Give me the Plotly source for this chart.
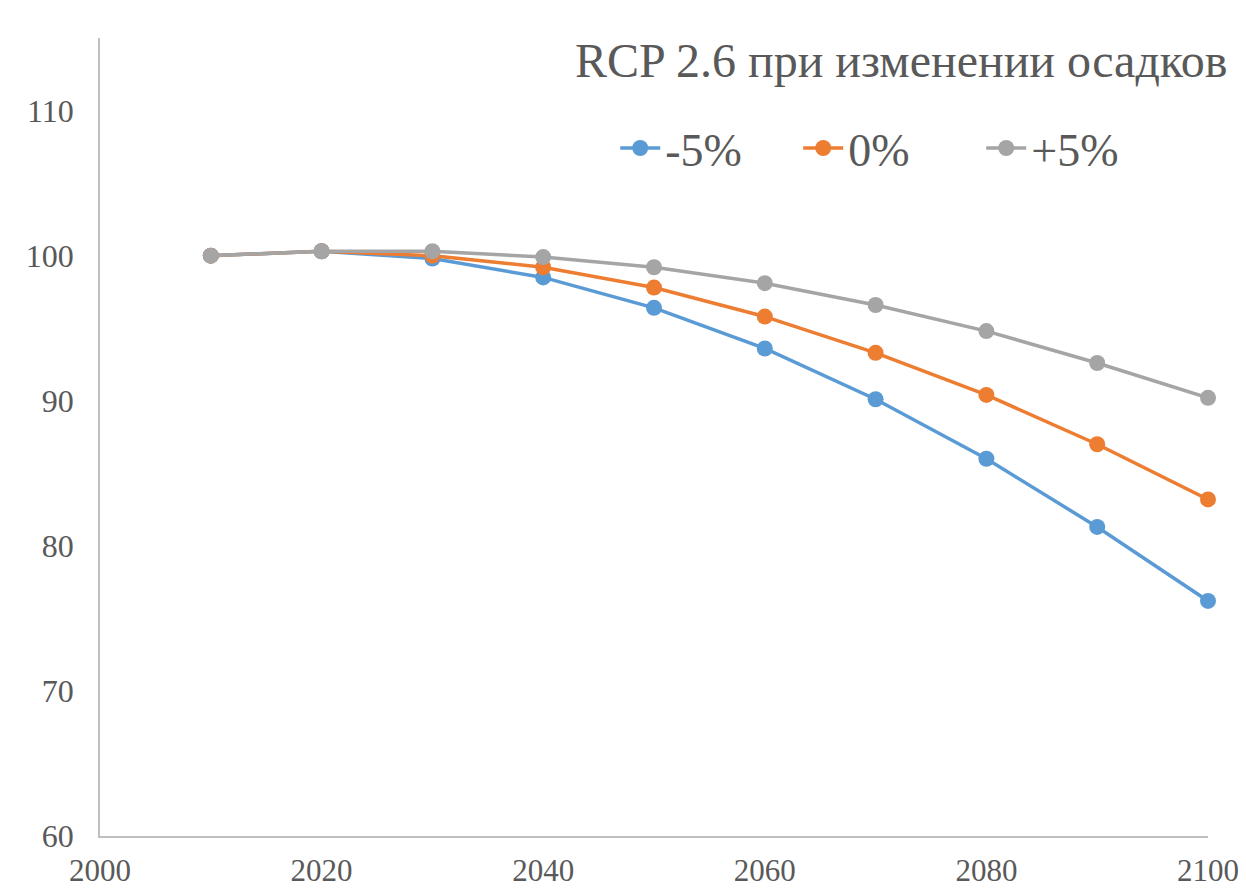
import plotly.graph_objects as go

years = [2010, 2020, 2030, 2040, 2050, 2060, 2070, 2080, 2090, 2100]
minus5 = [100.0, 100.3, 99.8, 98.5, 96.4, 93.6, 90.1, 86.0, 81.3, 76.2]
zero = [100.0, 100.3, 100.0, 99.2, 97.8, 95.8, 93.3, 90.4, 87.0, 83.2]
plus5 = [100.0, 100.3, 100.3, 99.9, 99.2, 98.1, 96.6, 94.8, 92.6, 90.2]

series_names = ["-5%", "0%", "+5%"]
series_colors = ["#5B9BD5", "#ED7D31", "#A5A5A5"]

x_ticks = [2000, 2020, 2040, 2060, 2080, 2100]
y_ticks = [60, 70, 80, 90, 100, 110]

font_family = "Liberation Serif"
text_color = "#595959"

fig = go.Figure()
for name, values, color in zip(series_names, [minus5, zero, plus5], series_colors):
    fig.add_trace(go.Scatter(
        x=years, y=values, name=name, mode="lines+markers",
        line=dict(color=color, width=3.5),
        marker=dict(color=color, size=16),
        cliponaxis=False,
    ))

fig.update_layout(
    width=1246, height=889,
    margin=dict(l=100, r=38, t=38, b=53),
    paper_bgcolor="white", plot_bgcolor="white",
    font=dict(family=font_family, color=text_color, size=31),
    showlegend=True,
    legend=dict(
        orientation="h", x=0.465, y=0.862, xanchor="left", yanchor="middle",
        font=dict(size=46, color=text_color, family=font_family),
        bgcolor="rgba(0,0,0,0)", itemwidth=40,
        entrywidth=128, entrywidthmode="pixels",
    ),
    annotations=[dict(
        text="RCP 2.6 при изменении осадков",
        xref="paper", yref="paper", x=1, y=1, xshift=21, yshift=-22,
        xanchor="right", yanchor="middle", showarrow=False,
        font=dict(size=48, color=text_color, family=font_family),
    )],
)

fig.update_xaxes(
    range=[2000, 2100], tickvals=x_ticks, ticktext=[str(v) for v in x_ticks],
    showgrid=False, zeroline=False, showline=True, linecolor="#BFBFBF", linewidth=1.5,
    ticks="", tickfont=dict(size=31, color=text_color, family=font_family),
    ticklabelstandoff=6, automargin=False,
)
fig.update_yaxes(
    range=[60, 115], tickvals=y_ticks, ticktext=[str(v) for v in y_ticks],
    showgrid=False, zeroline=False, showline=True, linecolor="#BFBFBF", linewidth=1.5,
    ticks="", tickfont=dict(size=32, color=text_color, family=font_family),
    ticklabelstandoff=18, automargin=False,
)

fig.write_html("out.html")
